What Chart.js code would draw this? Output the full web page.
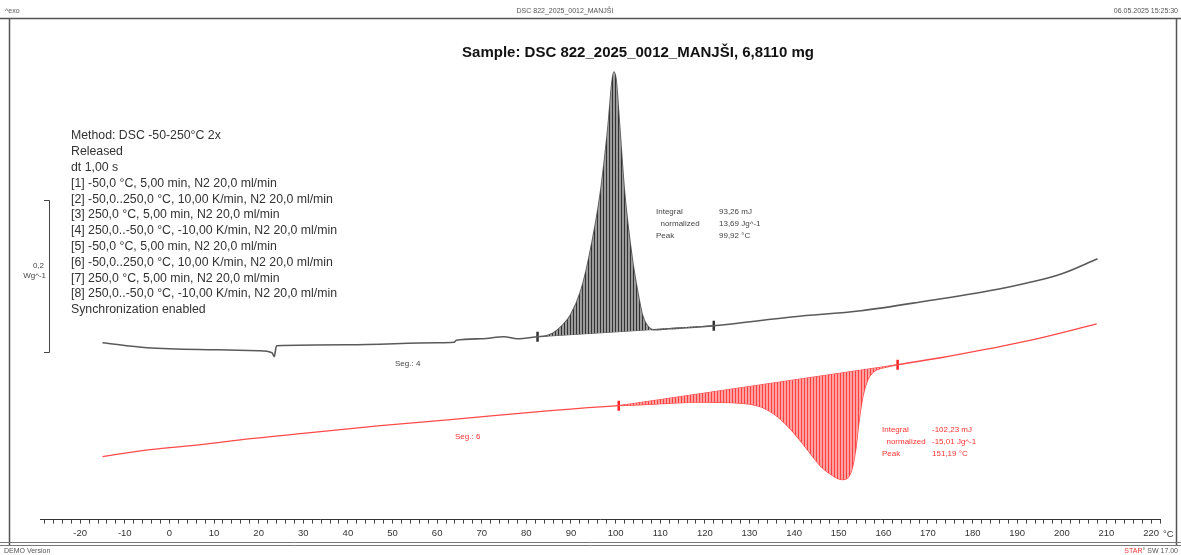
<!DOCTYPE html>
<html>
<head>
<meta charset="utf-8">
<script src="https://cdn.jsdelivr.net/npm/chart.js@4.4.1/dist/chart.umd.min.js"></script>
<style>
html, body { margin: 0; padding: 0; background: #fff; }
canvas { display: block; }
</style>
</head>
<body>
<canvas id="myChart" width="1181" height="555"></canvas>
<script>
// Seg. 4 (cooling) - temperature in °C, heat flow in Wg^-1 (offset arbitrary)
var seg4Temp = [-15, -5, 10, 20, 23, 23.5, 24, 40, 60, 63.8, 64.3, 70, 75, 78, 82.5, 84.5, 86, 88, 89.9, 92.2, 94, 96.6, 98.3, 99.2, 99.6, 100.1, 100.9, 102, 103.7, 104.9, 106, 107.1, 108.5, 112, 116, 122, 140, 155, 170, 185, 200, 208];
var seg4Flow = [0.0136, 0.0070, 0.0044, 0.0031, 0.0004, -0.0048, 0.0097, 0.0110, 0.0136, 0.0143, 0.0169, 0.0189, 0.0216, 0.0189, 0.0216, 0.0229, 0.0262, 0.0360, 0.0500, 0.0820, 0.1250, 0.2116, 0.2988, 0.3582, 0.3714, 0.3608, 0.2988, 0.2116, 0.1250, 0.0820, 0.0500, 0.0360, 0.0308, 0.0321, 0.0334, 0.0361, 0.0480, 0.0559, 0.0691, 0.0836, 0.1047, 0.1245];
var seg4Limits = [82.5, 122];
var seg4LimitFlow = [0.0216, 0.0361];

// Seg. 6 (heating)
var seg6Temp = [-15, -4.3, 7, 18.2, 29.4, 47.3, 63, 85.4, 100.7, 110.1, 119.1, 126.5, 132.5, 136.2, 140, 143, 146, 148.9, 150.8, 152.7, 153.8, 154.5, 155.4, 156.5, 157.8, 160.1, 163.2, 172.9, 182.5, 195.3, 207.8];
var seg6Flow = [-0.1368, -0.1276, -0.1210, -0.1131, -0.1065, -0.0959, -0.0880, -0.0761, -0.0695, -0.0669, -0.0649, -0.0656, -0.0708, -0.0836, -0.1056, -0.1276, -0.1496, -0.1628, -0.1672, -0.1580, -0.1276, -0.0920, -0.0576, -0.0352, -0.0246, -0.0194, -0.0154, -0.0062, 0.0044, 0.0202, 0.0387];
var seg6Limits = [100.7, 163.2];
var seg6LimitFlow = [-0.0695, -0.0154];

var xLabelTicks = [-20, -10, 0, 10, 20, 30, 40, 50, 60, 70, 80, 90, 100, 110, 120, 130, 140, 150, 160, 170, 180, 190, 200, 210, 220];

var methodLines = [
    'Method: DSC -50-250°C 2x',
    'Released',
    'dt 1,00 s',
    '[1] -50,0 °C, 5,00 min, N2 20,0 ml/min',
    '[2] -50,0..250,0 °C, 10,00 K/min, N2 20,0 ml/min',
    '[3] 250,0 °C, 5,00 min, N2 20,0 ml/min',
    '[4] 250,0..-50,0 °C, -10,00 K/min, N2 20,0 ml/min',
    '[5] -50,0 °C, 5,00 min, N2 20,0 ml/min',
    '[6] -50,0..250,0 °C, 10,00 K/min, N2 20,0 ml/min',
    '[7] 250,0 °C, 5,00 min, N2 20,0 ml/min',
    '[8] 250,0..-50,0 °C, -10,00 K/min, N2 20,0 ml/min',
    'Synchronization enabled'
];
var seg4Result = [['Integral', '93,26 mJ'], ['  normalized', '13,69 Jg^-1'], ['Peak', '99,92 °C']];
var seg6Result = [['Integral', '-102,23 mJ'], ['  normalized', '-15,01 Jg^-1'], ['Peak', '151,19 °C']];

function points(xs, ys) {
    var out = [];
    for (var i = 0; i < xs.length; i++) {
        out.push({ x: xs[i], y: ys[i] });
    }
    return out;
}

function between(xs, ys, lo, hi) {
    return points(xs, ys).filter(function(p) { return p.x >= lo && p.x <= hi; });
}

function hatch(base, line) {
    var c = document.createElement('canvas');
    c.width = 3;
    c.height = 4;
    var g = c.getContext('2d');
    g.fillStyle = base;
    g.fillRect(0, 0, 3, 4);
    g.fillStyle = line;
    g.fillRect(0, 0, 1, 4);
    return g.createPattern(c, 'repeat');
}

var font = "'Liberation Sans', Arial, sans-serif";

var frameAndText = {
    id: 'frameAndText',
    beforeDraw: function(chart) {
        var ctx = chart.ctx;
        ctx.save();
        ctx.fillStyle = '#fff';
        ctx.fillRect(0, 0, chart.width, chart.height);
        ctx.strokeStyle = '#555';
        ctx.lineWidth = 1.5;
        ctx.beginPath();
        ctx.moveTo(0, 18.5); ctx.lineTo(1181, 18.5);
        ctx.moveTo(9.5, 18); ctx.lineTo(9.5, 546);
        ctx.moveTo(1176.5, 18); ctx.lineTo(1176.5, 546);
        ctx.stroke();
        ctx.lineWidth = 1;
        ctx.strokeStyle = '#777';
        ctx.beginPath();
        ctx.moveTo(0, 542.5); ctx.lineTo(1181, 542.5);
        ctx.moveTo(0, 545.5); ctx.lineTo(1181, 545.5);
        ctx.stroke();
        ctx.restore();
    },
    afterDraw: function(chart) {
        var ctx = chart.ctx;
        ctx.save();
        ctx.textBaseline = 'middle';

        // header / footer
        ctx.font = '7px ' + font;
        ctx.fillStyle = '#555';
        ctx.textAlign = 'left';
        ctx.fillText('^exo', 5, 11);
        ctx.textAlign = 'center';
        ctx.fillText('DSC 822_2025_0012_MANJŠI', 565, 11);
        ctx.textAlign = 'right';
        ctx.fillText('06.05.2025 15:25:30', 1178, 11);
        ctx.textAlign = 'left';
        ctx.fillText('DEMO Version', 4, 551);
        ctx.textAlign = 'right';
        ctx.fillText('° SW 17.00', 1178, 551);
        var w = ctx.measureText('° SW 17.00').width;
        ctx.fillStyle = '#e33';
        ctx.fillText('STAR', 1178 - w, 551);

        // title
        ctx.fillStyle = '#111';
        ctx.textAlign = 'center';
        ctx.font = 'bold 15px ' + font;
        ctx.fillText('Sample: DSC 822_2025_0012_MANJŠI, 6,8110 mg', 638, 53);

        // method block
        ctx.textAlign = 'left';
        ctx.fillStyle = '#333';
        ctx.font = '12.3px ' + font;
        methodLines.forEach(function(t, i) {
            ctx.fillText(t, 71, 136 + i * 15.8);
        });

        // scale bar 0,2 Wg^-1
        ctx.strokeStyle = '#444';
        ctx.lineWidth = 1;
        ctx.beginPath();
        ctx.moveTo(44, 200.5); ctx.lineTo(49.5, 200.5); ctx.lineTo(49.5, 352.5); ctx.lineTo(44, 352.5);
        ctx.stroke();
        ctx.font = '8px ' + font;
        ctx.fillStyle = '#444';
        ctx.textAlign = 'right';
        ctx.fillText('0,2', 44, 266);
        ctx.fillText('Wg^-1', 46, 276);

        // Seg labels and results
        ctx.textAlign = 'left';
        ctx.fillStyle = '#444';
        ctx.fillText('Seg.: 4', 395, 364);
        seg4Result.forEach(function(r, i) {
            ctx.fillText(r[0], 656, 212 + i * 11.7);
            ctx.fillText(r[1], 719, 212 + i * 11.7);
        });
        ctx.fillStyle = '#f33';
        ctx.fillText('Seg.: 6', 455, 437);
        seg6Result.forEach(function(r, i) {
            ctx.fillText(r[0], 882, 430 + i * 11.7);
            ctx.fillText(r[1], 932, 430 + i * 11.7);
        });

        // axis unit
        ctx.fillStyle = '#333';
        ctx.font = '9.5px ' + font;
        ctx.fillText('°C', 1163, 534);
        ctx.restore();
    }
};

var ctx = document.getElementById('myChart');
var black = '#5a5a5a';
var red = '#ff4a4a';

var myChart = new Chart(ctx, {
    type: 'line',
    data: {
        datasets: [{
            data: between(seg4Temp, seg4Flow, seg4Limits[0], seg4Limits[1]),
            borderWidth: 0,
            pointRadius: 0,
            cubicInterpolationMode: 'monotone',
            backgroundColor: hatch('#9a9a9a', '#333'),
            fill: 1
        }, {
            data: points(seg4Limits, seg4LimitFlow),
            borderColor: black,
            borderWidth: 1,
            pointRadius: 0,
            fill: false
        }, {
            data: points(seg4Temp, seg4Flow),
            borderColor: black,
            borderWidth: 1.6,
            pointRadius: 0,
            cubicInterpolationMode: 'monotone',
            fill: false
        }, {
            data: between(seg6Temp, seg6Flow, seg6Limits[0], seg6Limits[1]),
            borderWidth: 0,
            pointRadius: 0,
            cubicInterpolationMode: 'monotone',
            backgroundColor: hatch('#ffa0a0', '#ff4040'),
            fill: 4
        }, {
            data: points(seg6Limits, seg6LimitFlow),
            borderColor: red,
            borderWidth: 1,
            pointRadius: 0,
            fill: false
        }, {
            data: points(seg6Temp, seg6Flow),
            borderColor: red,
            borderWidth: 1.3,
            pointRadius: 0,
            cubicInterpolationMode: 'monotone',
            fill: false
        }, {
            data: points(seg4Limits, seg4LimitFlow),
            showLine: false,
            pointStyle: 'line',
            rotation: 90,
            pointRadius: 5,
            pointBorderWidth: 2.5,
            pointBorderColor: '#333'
        }, {
            data: points(seg6Limits, seg6LimitFlow),
            showLine: false,
            pointStyle: 'line',
            rotation: 90,
            pointRadius: 5,
            pointBorderWidth: 2.5,
            pointBorderColor: '#f22'
        }]
    },
    options: {
        responsive: false,
        animation: false,
        devicePixelRatio: 1,
        layout: { padding: { left: 40, right: 21, top: 20, bottom: 12 } },
        plugins: {
            legend: { display: false },
            tooltip: { enabled: false }
        },
        scales: {
            x: {
                type: 'linear',
                min: -29,
                max: 222,
                afterBuildTicks: function(scale) {
                    var t = [];
                    for (var v = -28; v <= 222; v += 2) t.push({ value: v });
                    scale.ticks = t;
                },
                ticks: {
                    autoSkip: false,
                    maxRotation: 0,
                    padding: 4,
                    color: '#333',
                    font: { size: 9.5, family: font },
                    callback: function(v) {
                        return xLabelTicks.indexOf(v) >= 0 ? String(v) : '';
                    }
                },
                grid: {
                    drawOnChartArea: false,
                    tickLength: 4,
                    color: '#444'
                },
                border: { color: '#333', width: 1 }
            },
            y: {
                display: false,
                min: -0.22,
                max: 0.44
            }
        }
    },
    plugins: [frameAndText]
});
</script>
</body>
</html>
